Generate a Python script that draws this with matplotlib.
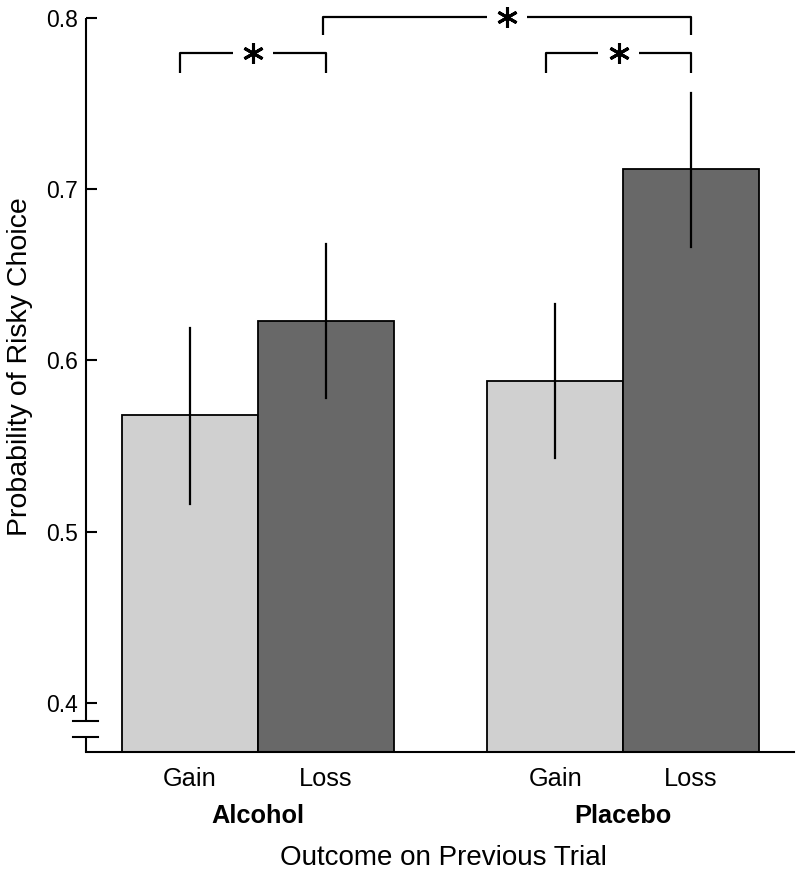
#!/usr/bin/env python3
"""Risky choice after gain/loss, alcohol vs placebo"""
import matplotlib
matplotlib.use('Agg')
import matplotlib.pyplot as plt
import matplotlib.transforms as mtransforms

plt.rcParams['font.family'] = ['Liberation Sans', 'DejaVu Sans']

# data
groups = ['Alcohol', 'Placebo']
outcomes = ['Gain', 'Loss']
means = {'Alcohol': [0.568, 0.623], 'Placebo': [0.588, 0.712]}
err_hi = {'Alcohol': [0.619, 0.668], 'Placebo': [0.633, 0.756]}
err_lo = {'Alcohol': [0.516, 0.578], 'Placebo': [0.543, 0.666]}
colors = ['#d0d0d0', '#686868']

y_bottom = 0.3713
y_top = 0.8
yticks = [0.4, 0.5, 0.6, 0.7, 0.8]

width = 0.372
fig = plt.figure(figsize=(8, 8.74), dpi=100)
ax = fig.add_axes([0.1075, 0.1396, 0.885, 0.8398])

centers = {}
for gi, g in enumerate(groups):
    for oi, o in enumerate(outcomes):
        x = gi + (oi - 0.5) * width
        centers[(g, o)] = x
        m = means[g][oi]
        ax.bar(x, m - y_bottom, bottom=y_bottom, width=width, color=colors[oi],
               edgecolor='black', linewidth=1.3, zorder=2)
        ax.plot([x, x], [err_lo[g][oi], err_hi[g][oi]], color='black', lw=1.6, zorder=3)

ax.set_xlim(-0.471, 1.468)
ax.set_ylim(y_bottom, y_top)

# spines / ticks
for s in ['top', 'right', 'left']:
    ax.spines[s].set_visible(False)
ax.spines['bottom'].set_linewidth(1.5)
ax.set_yticks(yticks)
ax.set_yticklabels([f'{t:.1f}' for t in yticks], fontsize=16.5)
ax.tick_params(axis='y', direction='in', length=8, width=1.5, pad=6)
ax.set_xticks([centers[(g, o)] for g in groups for o in outcomes])
ax.set_xticklabels([o for g in groups for o in outcomes], fontsize=18.3)
ax.tick_params(axis='x', length=0, pad=11)

# left axis with a break near the bottom
trans = mtransforms.blended_transform_factory(ax.transAxes, ax.transData)
brk_hi, brk_lo = 0.3895, 0.3801
ax.plot([0, 0], [y_top, brk_hi], transform=trans, color='black', lw=1.5, clip_on=False,
        solid_capstyle='butt')
ax.plot([0, 0], [brk_lo, y_bottom], transform=trans, color='black', lw=1.5, clip_on=False,
        solid_capstyle='butt')
for yb in [brk_hi, brk_lo]:
    ax.plot([-0.018, 0.017], [yb, yb], transform=trans, color='black', lw=1.5, clip_on=False)

# group labels
gtrans = mtransforms.blended_transform_factory(ax.transData, ax.transAxes)
for gi, g in enumerate(groups):
    ax.text(gi, -0.0872, g, transform=gtrans, ha='center', va='center',
            fontsize=18.3, fontweight='bold')
fig.text(443 / 800, 1 - 858 / 874, 'Outcome on Previous Trial', ha='center', va='center', fontsize=20)
fig.text(20 / 800, 1 - 367 / 874, 'Probability of Risky Choice', ha='center', va='center',
         rotation=90, fontsize=20.5)


# significance brackets
def bracket(x1, x2, y, leg, gap):
    xm = (x1 + x2) / 2
    kw = dict(color='black', lw=1.6, clip_on=False, solid_capstyle='butt')
    ax.plot([x1, x1, xm - gap], [y - leg, y, y], **kw)
    ax.plot([xm + gap, x2, x2], [y, y, y - leg], **kw)
    ax.plot([xm], [y], marker=(6, 2, 0), markersize=15, mew=2.2, color='black', clip_on=False)


bracket(centers[('Alcohol', 'Gain')] - 0.027, centers[('Alcohol', 'Loss')], 0.7795, 0.0115, 0.056)
bracket(centers[('Alcohol', 'Loss')] - 0.008, centers[('Placebo', 'Loss')], 0.8005, 0.0105, 0.055)
bracket(centers[('Placebo', 'Gain')] - 0.025, centers[('Placebo', 'Loss')], 0.7795, 0.0115, 0.055)

plt.savefig('out.png', dpi=100)
plt.close()
